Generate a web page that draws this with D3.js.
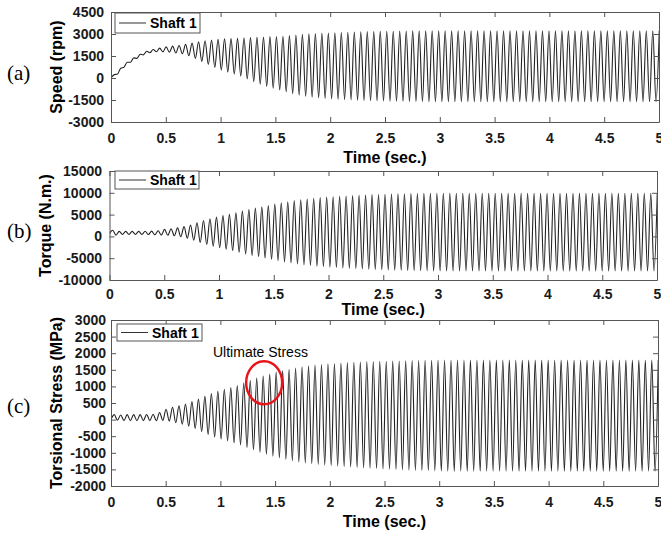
<!DOCTYPE html>
<html>
<head>
<meta charset="utf-8">
<script src="https://cdn.jsdelivr.net/npm/d3@7"></script>
<style>
  body { margin: 0; background: #fff; }
  svg { display: block; }
  .tick text { font-family: "Liberation Sans", Arial, sans-serif; font-weight: bold; font-size: 14px; fill: #1a1a1a; }
</style>
</head>
<body>
<div id="chart"></div>
<script>
// one oscillation every ~0.0592 s (about 16.9 Hz), counted off the picture
const period = 0.0592;

// per-cycle maxima / minima (cycle k: min at k*period, max half a period later)
const speedPeaks = [230, 670, 1070, 1370, 1620, 1820, 1940, 2035, 2120, 2170,
  2220, 2290, 2375, 2470, 2540, 2585, 2635, 2675, 2690, 2700,
  2725, 2750, 2770, 2795, 2820, 2830, 2845, 2890, 2935, 2975,
  3010, 3032, 3052, 3072, 3088, 3100, 3115, 3130, 3144, 3159,
  3168, 3176, 3186, 3191, 3198, 3204, 3210, 3216, 3220, 3224,
  3226, 3226, 3226, 3226, 3226, 3226, 3226, 3226, 3226, 3226,
  3226, 3226, 3226, 3226, 3226, 3226, 3226, 3226, 3226, 3226,
  3226, 3226, 3226, 3226, 3226, 3226, 3226, 3226, 3226, 3226,
  3226, 3226, 3226, 3226, 3226];
const speedTroughs = [0, 270, 730, 1070, 1340, 1580, 1720, 1785, 1780, 1755,
  1705, 1650, 1525, 1340, 1130, 920, 720, 545, 405, 275,
  130, -60, -250, -415, -570, -695, -815, -940, -1065, -1165,
  -1247, -1302, -1349, -1390, -1426, -1449, -1472, -1492, -1513, -1532,
  -1547, -1556, -1565, -1574, -1582, -1588, -1594, -1600, -1604, -1608,
  -1610, -1610, -1610, -1610, -1610, -1610, -1610, -1610, -1610, -1610,
  -1610, -1610, -1610, -1610, -1610, -1610, -1610, -1610, -1610, -1610,
  -1610, -1610, -1610, -1610, -1610, -1610, -1610, -1610, -1610, -1610,
  -1610, -1610, -1610, -1610, -1610];

const torquePeaks = [1400, 1150, 1150, 1150, 1150, 1170, 1210, 1300, 1600, 1750,
  1960, 2240, 2630, 3140, 3650, 4050, 4410, 4760, 5070, 5430,
  5830, 6180, 6500, 6800, 7100, 7400, 7690, 7960, 8200, 8400,
  8590, 8750, 8900, 9020, 9110, 9200, 9280, 9370, 9430, 9500,
  9570, 9620, 9670, 9720, 9760, 9790, 9820, 9840, 9860, 9880,
  9900, 9900, 9900, 9900, 9900, 9900, 9900, 9900, 9900, 9900,
  9900, 9900, 9900, 9900, 9900, 9900, 9900, 9900, 9900, 9900,
  9900, 9900, 9900, 9900, 9900, 9900, 9900, 9900, 9900, 9900,
  9900, 9900, 9900, 9900, 9900];
const torqueTroughs = [700, 300, 450, 450, 450, 450, 420, 360, 300, 250,
  140, -80, -420, -870, -1400, -1870, -2230, -2590, -2940, -3240,
  -3630, -4010, -4360, -4650, -4950, -5250, -5540, -5840, -6080, -6310,
  -6500, -6660, -6830, -6950, -7060, -7150, -7250, -7330, -7400, -7470,
  -7540, -7600, -7650, -7700, -7740, -7780, -7810, -7840, -7860, -7880,
  -7930, -7930, -7930, -7930, -7930, -7930, -7930, -7930, -7930, -7930,
  -7930, -7930, -7930, -7930, -7930, -7930, -7930, -7930, -7930, -7930,
  -7930, -7930, -7930, -7930, -7930, -7930, -7930, -7930, -7930, -7930,
  -7930, -7930, -7930, -7930, -7930];

const stressPeaks = [150, 140, 150, 150, 150, 155, 160, 215, 310, 370,
  415, 470, 540, 620, 700, 785, 855, 915, 965, 1025,
  1100, 1175, 1250, 1310, 1370, 1430, 1475, 1515, 1555, 1588,
  1617, 1640, 1660, 1678, 1692, 1705, 1716, 1726, 1735, 1745,
  1750, 1755, 1758, 1762, 1766, 1770, 1775, 1779, 1783, 1787,
  1790, 1793, 1796, 1796, 1796, 1796, 1796, 1796, 1796, 1796,
  1796, 1796, 1796, 1796, 1796, 1796, 1796, 1796, 1796, 1796,
  1796, 1796, 1796, 1796, 1796, 1796, 1796, 1796, 1796, 1796,
  1796, 1796, 1796, 1796, 1796];
const stressTroughs = [0, -20, -30, -30, -30, -30, -30, -35, -25, -45,
  -95, -140, -200, -270, -360, -445, -525, -585, -640, -695,
  -760, -840, -910, -980, -1040, -1100, -1150, -1200, -1240, -1275,
  -1302, -1328, -1352, -1370, -1388, -1402, -1416, -1428, -1440, -1452,
  -1464, -1475, -1486, -1496, -1505, -1513, -1521, -1528, -1535, -1540,
  -1545, -1550, -1555, -1555, -1555, -1555, -1555, -1555, -1555, -1555,
  -1555, -1555, -1555, -1555, -1555, -1555, -1555, -1555, -1555, -1555,
  -1555, -1555, -1555, -1555, -1555, -1555, -1555, -1555, -1555, -1555,
  -1555, -1555, -1555, -1555, -1555];

const xTicks = [0, 0.5, 1, 1.5, 2, 2.5, 3, 3.5, 4, 4.5, 5];
const speedTicks = [-3000, -1500, 0, 1500, 3000, 4500];
const torqueTicks = [-10000, -5000, 0, 5000, 10000, 15000];
const stressTicks = [-2000, -1500, -1000, -500, 0, 500, 1000, 1500, 2000, 2500, 3000];

const svg = d3.select("#chart")
  .append("svg")
  .attr("width", 661)
  .attr("height", 536);

// alternate minima and maxima along the time axis
function toPoints(peaks, troughs) {
  const pts = [];
  troughs.forEach((v, k) => {
    pts.push({ t: k * period, v: v });
    pts.push({ t: (k + 0.5) * period, v: peaks[k] });
  });
  return pts;
}

function drawPanel(p) {
  const x = d3.scaleLinear().domain([0, 5]).range([p.left, p.right]);
  const y = d3.scaleLinear().domain(d3.extent(p.yTicks)).range([p.bottom, p.top]);
  const g = svg.append("g");

  g.append("clipPath")
    .attr("id", "clip-" + p.id)
    .append("rect")
    .attr("x", p.left).attr("y", p.top)
    .attr("width", p.right - p.left).attr("height", p.bottom - p.top);

  const line = d3.line()
    .x((d) => x(d.t))
    .y((d) => y(d.v))
    .curve(d3.curveMonotoneX);

  g.append("path")
    .datum(toPoints(p.peaks, p.troughs))
    .attr("clip-path", "url(#clip-" + p.id + ")")
    .attr("fill", "none")
    .attr("stroke", "#222")
    .attr("stroke-width", 1.1)
    .attr("d", line);

  // box with inward ticks on all four sides
  g.append("g")
    .attr("transform", "translate(0," + p.bottom + ")")
    .call(d3.axisBottom(x).tickValues(xTicks).tickFormat((d) => String(d))
      .tickSizeInner(-5).tickSizeOuter(0).tickPadding(p.xPad));
  g.append("g")
    .attr("transform", "translate(0," + p.top + ")")
    .call(d3.axisTop(x).tickValues(xTicks).tickFormat("")
      .tickSizeInner(-5).tickSizeOuter(0));
  g.append("g")
    .attr("transform", "translate(" + p.left + ",0)")
    .call(d3.axisLeft(y).tickValues(p.yTicks).tickFormat((d) => String(d))
      .tickSizeInner(-5).tickSizeOuter(0).tickPadding(p.yPad));
  g.append("g")
    .attr("transform", "translate(" + p.right + ",0)")
    .call(d3.axisRight(y).tickValues(p.yTicks).tickFormat("")
      .tickSizeInner(-5).tickSizeOuter(0));
  g.selectAll(".domain, .tick line").attr("stroke", "#555");

  // legend
  const lg = p.legend;
  g.append("rect")
    .attr("x", lg.x).attr("y", lg.y).attr("width", lg.w).attr("height", lg.h)
    .attr("fill", "#fff").attr("stroke", "#555");
  g.append("line")
    .attr("x1", lg.x + 4).attr("x2", lg.x + 31)
    .attr("y1", lg.y + lg.h / 2).attr("y2", lg.y + lg.h / 2)
    .attr("stroke", "#333");
  g.append("text")
    .attr("x", lg.x + 35).attr("y", lg.y + lg.h / 2 + 5)
    .style("font-family", "'Liberation Sans', Arial, sans-serif")
    .style("font-weight", "bold").style("font-size", "14px")
    .text("Shaft 1");

  // axis titles
  g.append("text")
    .attr("x", (p.left + p.right) / 2).attr("y", p.titleY)
    .attr("text-anchor", "middle")
    .style("font-family", "'Liberation Sans', Arial, sans-serif")
    .style("font-weight", "bold").style("font-size", "16px")
    .text("Time (sec.)");
  g.append("text")
    .attr("transform", "translate(" + p.yTitleX + "," + (p.top + p.bottom) / 2 + ") rotate(-90)")
    .attr("text-anchor", "middle")
    .style("font-family", "'Liberation Sans', Arial, sans-serif")
    .style("font-weight", "bold").style("font-size", "16px")
    .text(p.yTitle);

  // panel letter
  g.append("text")
    .attr("x", 7).attr("y", p.letterY)
    .style("font-family", "'Liberation Serif', 'Times New Roman', serif")
    .style("font-size", "21px")
    .text(p.letter);

  return { x, y, g };
}

drawPanel({
  id: "a", peaks: speedPeaks, troughs: speedTroughs, yTicks: speedTicks,
  left: 111, right: 659, top: 12, bottom: 122, xPad: 11, yPad: 7,
  legend: { x: 115, y: 13, w: 85, h: 20 },
  titleY: 163, yTitle: "Speed (rpm)", yTitleX: 62, letter: "(a)", letterY: 80
});

drawPanel({
  id: "b", peaks: torquePeaks, troughs: torqueTroughs, yTicks: torqueTicks,
  left: 109.5, right: 657, top: 171, bottom: 280, xPad: 9, yPad: 7.5,
  legend: { x: 115, y: 171, w: 84, h: 18 },
  titleY: 315, yTitle: "Torque (N.m.)", yTitleX: 51, letter: "(b)", letterY: 238
});

const c = drawPanel({
  id: "c", peaks: stressPeaks, troughs: stressTroughs, yTicks: stressTicks,
  left: 111, right: 658, top: 320, bottom: 486, xPad: 11, yPad: 5,
  legend: { x: 117, y: 324, w: 85, h: 17 },
  titleY: 527, yTitle: "Torsional Stress (MPa)", yTitleX: 62, letter: "(c)", letterY: 413
});

// annotation on the stress plot
c.g.append("text")
  .attr("x", 213).attr("y", 357)
  .style("font-family", "'Liberation Sans', Arial, sans-serif")
  .style("font-size", "14px")
  .text("Ultimate Stress");
c.g.append("ellipse")
  .attr("cx", c.x(1.4)).attr("cy", c.y(1110))
  .attr("rx", 18).attr("ry", 21.5)
  .attr("fill", "none")
  .attr("stroke", "#e8141c")
  .attr("stroke-width", 2.5);
</script>
</body>
</html>
